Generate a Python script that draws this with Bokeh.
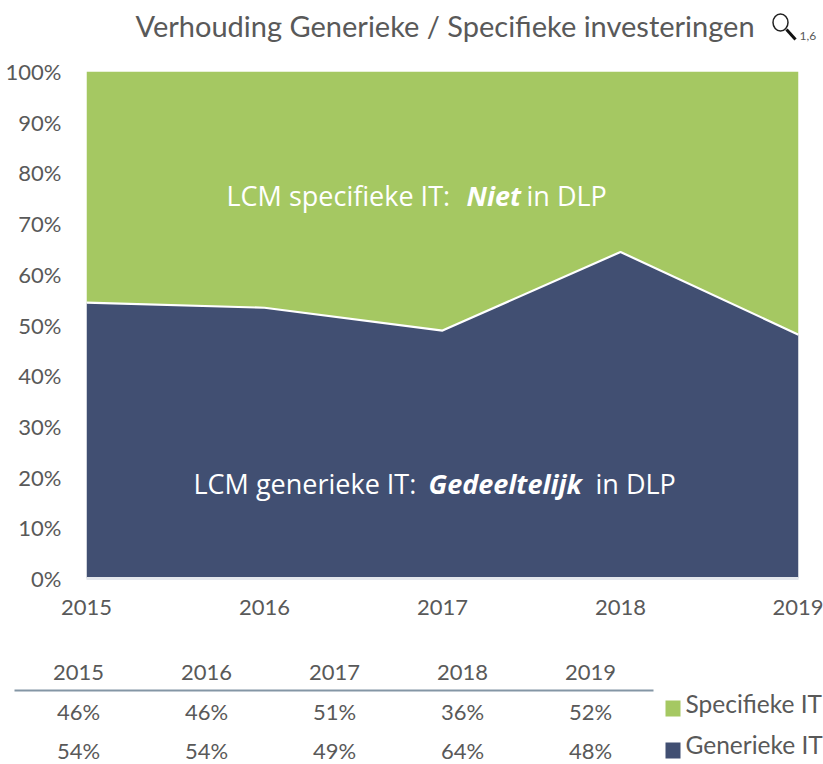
from bokeh.plotting import figure
from bokeh.layouts import column
from bokeh.models import Range1d, Label, PrintfTickFormatter, FixedTicker
from bokeh.core.properties import value
from bokeh.embed import file_html
from bokeh.resources import INLINE

years = [2015, 2016, 2017, 2018, 2019]
generiek = [54.4, 53.4, 48.9, 64.4, 48.1]
totaal = [100, 100, 100, 100, 100]
tabel_specifiek = ["46%", "46%", "51%", "36%", "52%"]
tabel_generiek = ["54%", "54%", "49%", "64%", "48%"]
titel = "Verhouding Generieke / Specifieke investeringen"
series_names = ["Specifieke IT", "Generieke IT"]

GREEN = "#A5C862"
NAVY = "#414F72"
GREY = "#595959"
FONT = "Lato"
W = 823
T_H, A_H = 44, 596
B_H = 764 - T_H - A_H
Y0 = T_H + A_H
FRAME_TOP, FRAME_BOTTOM = 71, 578

def pixel_fig(h):
    f = figure(width=W, height=h, x_range=Range1d(0, W), y_range=Range1d(h, 0),
               output_backend="svg", toolbar_location=None, min_border=0,
               outline_line_color=None, x_axis_type=None, y_axis_type=None)
    f.grid.visible = False
    return f

T = pixel_fig(T_H)
T.text([135], [25], text=[titel], text_font=value(FONT), text_font_size="29px",
       text_color=GREY, text_baseline="middle")
T.ellipse([780], [22], width=15, height=17, fill_color=None, line_color="#222222", line_width=1.5)
T.line([786, 795], [29, 39], line_color="#111111", line_width=3)
T.text([799], [35], text=["1,6"], text_font=value(FONT), text_font_size="12px",
       text_color=GREY, text_baseline="middle")

A = figure(width=W, height=A_H, x_range=Range1d(2015, 2019), y_range=Range1d(0, 100),
           output_backend="svg", toolbar_location=None,
           min_border_left=86, min_border_right=25, min_border_top=FRAME_TOP - T_H,
           min_border_bottom=T_H + A_H - FRAME_BOTTOM, outline_line_color=None)
A.grid.visible = False
A.varea(x=years, y1=generiek, y2=totaal, fill_color=GREEN)
A.varea(x=years, y1=[0] * 5, y2=generiek, fill_color=NAVY)
A.line(x=years, y=generiek, line_color="white", line_width=2.2)
A.xaxis.ticker = FixedTicker(ticks=years)
A.xaxis.formatter.use_scientific = False
A.xaxis.major_tick_line_color = None
A.xaxis.minor_tick_line_color = None
A.xaxis.axis_line_color = "#E4E7EC"
A.xaxis.axis_line_width = 3
A.xaxis.major_label_text_font = FONT
A.xaxis.major_label_text_font_size = "22px"
A.xaxis.major_label_text_color = GREY
A.xaxis.major_label_standoff = 15
A.yaxis.ticker = FixedTicker(ticks=list(range(0, 101, 10)))
A.yaxis.formatter = PrintfTickFormatter(format="%d%%")
A.yaxis.major_tick_line_color = None
A.yaxis.minor_tick_line_color = None
A.yaxis.axis_line_color = None
A.yaxis.major_label_text_font = FONT
A.yaxis.major_label_text_font_size = "22px"
A.yaxis.major_label_text_color = GREY
A.yaxis.major_label_standoff = 19

def put(px, py, txt, bold=False):
    A.add_layout(Label(x=px - 86, y=FRAME_BOTTOM - py, x_units="screen", y_units="screen", text=txt,
                       text_font="Open Sans", text_font_size="27px",
                       text_font_style="bold italic" if bold else "normal",
                       text_color="white", text_baseline="middle"))

for px, txt, bold in [(226, "LCM specifieke IT:", False), (466, "Niet", True), (526, "in DLP", False)]:
    put(px, 195, txt, bold)
for px, txt, bold in [(193, "LCM generieke IT:", False), (428, "Gedeeltelijk", True), (595, "in DLP", False)]:
    put(px, 483, txt, bold)

B = pixel_fig(B_H)
xs = [78 + 128 * i for i in range(len(years))]
for vals, y in [([str(v) for v in years], 672), (tabel_specifiek, 711), (tabel_generiek, 750)]:
    B.text(xs, [y - Y0] * len(xs), text=vals, text_font=value(FONT), text_font_size="22px",
           text_color=GREY, text_align="center", text_baseline="middle")
B.line([14, 653], [690 - Y0, 690 - Y0], line_color="#8496A5", line_width=2)
for color, name, ys, yt in [(GREEN, series_names[0], 708, 703), (NAVY, series_names[1], 750, 744)]:
    B.rect([672.5], [ys - Y0], width=15, height=16, fill_color=color, line_color=None)
    B.text([685], [yt - Y0], text=[name], text_font=value(FONT), text_font_size="24.5px",
           text_color=GREY, text_baseline="middle")

page = column(column(T), column(A), column(B), spacing=0)
open("out.html", "w").write(file_html(page, INLINE))
